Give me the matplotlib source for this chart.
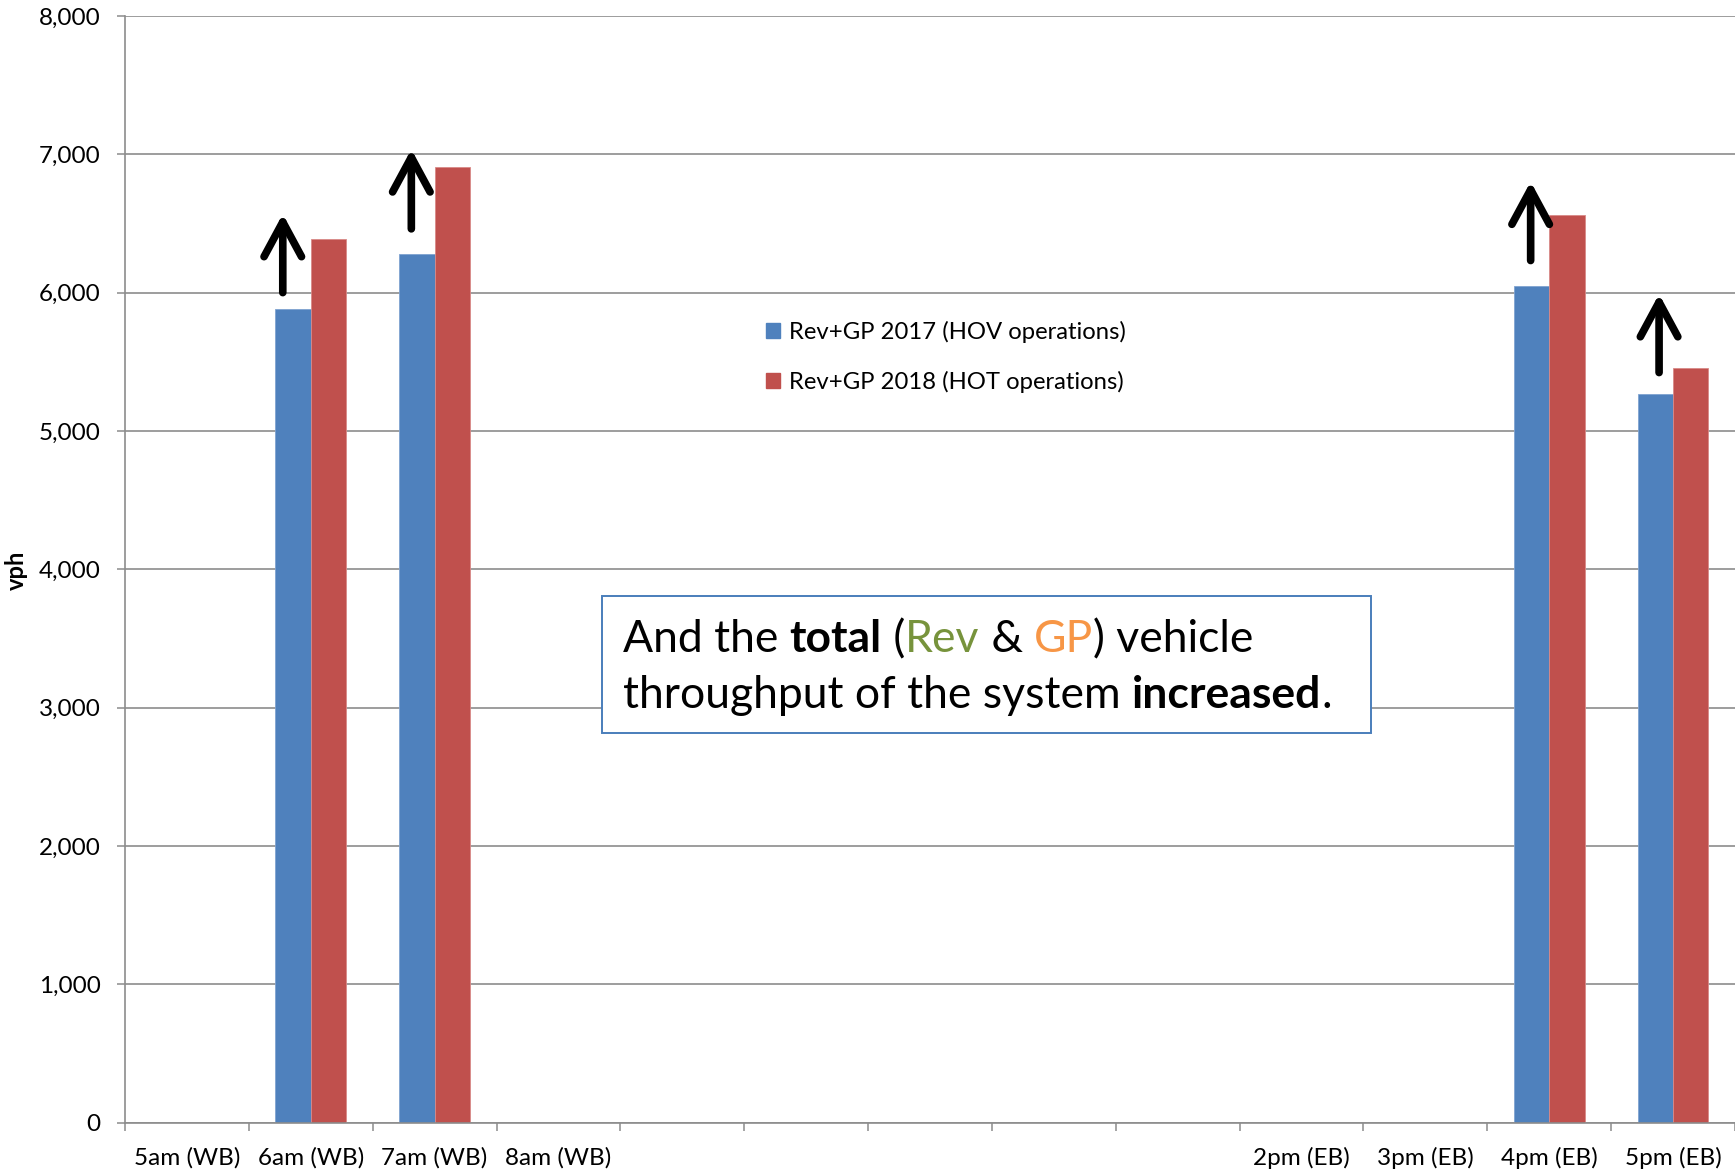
import numpy as np
import matplotlib
matplotlib.use('Agg')
import matplotlib.pyplot as plt
from matplotlib.patches import Rectangle, Patch
from matplotlib.ticker import FuncFormatter, FixedLocator
from matplotlib.transforms import IdentityTransform

# ---------------- data ----------------
categories = ['5am (WB)', '6am (WB)', '7am (WB)', '8am (WB)', '', '', '', '', '',
              '2pm (EB)', '3pm (EB)', '4pm (EB)', '5pm (EB)']
nan = np.nan
rev_gp_2017 = [nan, 5880, 6280, nan, nan, nan, nan, nan, nan, nan, nan, 6048, 5268]
rev_gp_2018 = [nan, 6389, 6911, nan, nan, nan, nan, nan, nan, nan, nan, 6562, 5455]
series_labels = ['Rev+GP 2017 (HOV operations)', 'Rev+GP 2018 (HOT operations)']
y_ticks = [0, 1000, 2000, 3000, 4000, 5000, 6000, 7000, 8000]
y_label = 'vph'

# arrows (annotation): category index, base value, tip value
arrow_cat = [1, 2, 11, 12]
arrow_base = [6000, 6461, 6232, 5422]
arrow_tip = [6569, 7037, 6803, 5990]

# ---------------- style / layout ----------------
W, H = 1735, 1173
FONT = ['Lato', 'DejaVu Sans']
BLUE = '#4F81BD'
RED = '#C0504D'
GRID = '#8C8C8C'
bar_w = 0.285
arrow_dx = [-0.226, -0.188, -0.15, -0.113]

plt.rcParams['font.family'] = FONT

fig = plt.figure(figsize=(W / 100, H / 100), dpi=100)
ax = fig.add_axes([125 / W, 1 - 1122.5 / H, (1735 - 125) / W, (1122.5 - 16) / H])

x = np.arange(len(categories))
ax.bar(x - bar_w / 2, rev_gp_2017, width=bar_w, color=BLUE, edgecolor='#7FA3D1',
       linewidth=0.6, zorder=3, label=series_labels[0])
ax.bar(x + bar_w / 2, rev_gp_2018, width=bar_w, color=RED, edgecolor='#D98A88',
       linewidth=0.6, zorder=3, label=series_labels[1])

ax.set_xlim(-0.5, len(categories) - 0.5)
ax.set_ylim(y_ticks[0], y_ticks[-1])
ax.yaxis.set_major_locator(FixedLocator(y_ticks))
ax.yaxis.set_major_formatter(FuncFormatter(lambda v, p: f'{int(v):,}'))
ax.set_xticks(x)
ax.set_xticklabels(categories)
ax.set_xticks(np.arange(len(categories) + 1) - 0.5, minor=True)

ax.tick_params(axis='x', which='major', length=0, pad=17.5, labelsize=17.5)
ax.tick_params(axis='x', which='minor', length=6, width=1.1, color=GRID, direction='out')
ax.tick_params(axis='y', which='major', length=6, width=1.1, color=GRID, pad=11.5, labelsize=17.5)

ax.grid(axis='y', color=GRID, linewidth=1.2, zorder=0)
ax.set_axisbelow(True)
for s in ['top', 'right']:
    ax.spines[s].set_visible(False)
for s in ['left', 'bottom']:
    ax.spines[s].set_color(GRID)
    ax.spines[s].set_linewidth(1.2)
    ax.spines[s].set_zorder(4)

ax.set_ylabel(y_label, fontsize=17, fontweight='bold', labelpad=0)
ax.yaxis.set_label_coords(-(125 - 28) / (W - 125), 0.5 - 1.0 / 1106.5)

# arrows
for c, dx, b, t in zip(arrow_cat, arrow_dx, arrow_base, arrow_tip):
    ax.annotate('', xy=(c + dx, t), xytext=(c + dx, b),
                arrowprops=dict(arrowstyle='->,head_length=25,head_width=13.5',
                                mutation_scale=1, lw=5.5, color='black',
                                shrinkA=0, shrinkB=0, capstyle='round',
                                joinstyle='round'),
                zorder=5)

# legend
handles = [Patch(facecolor=BLUE, edgecolor=BLUE), Patch(facecolor=RED, edgecolor=RED)]
ax.legend(handles, series_labels, loc='upper left',
          bbox_to_anchor=(766 / W, 1 - 321 / H), bbox_transform=fig.transFigure,
          frameon=False, borderpad=0, handlelength=0.6, handleheight=0.6,
          handletextpad=0.35, labelspacing=1.15, fontsize=17.2, borderaxespad=0)

# text box
box = Rectangle((602, H - 733), 1371 - 602, 733 - 596, transform=IdentityTransform(),
                facecolor='white', edgecolor='#4A7EBB', linewidth=1.4, zorder=10)
fig.add_artist(box)

fig.canvas.draw()
renderer = fig.canvas.get_renderer()
BOX_FS = 32


def text_width(s, weight):
    t = fig.text(0, 0, '|' + s + '|', fontsize=BOX_FS, fontweight=weight)
    w1 = t.get_window_extent(renderer).width
    t.set_text('||')
    w2 = t.get_window_extent(renderer).width
    t.remove()
    return w1 - w2


lines = [
    (652, [('And the ', 'normal', 'black'), ('total', 'bold', 'black'),
           (' (', 'normal', 'black'), ('Rev', 'normal', '#77933C'),
           (' & ', 'normal', 'black'), ('GP', 'normal', '#F79646'),
           (') vehicle', 'normal', 'black')]),
    (708, [('throughput of the system ', 'normal', 'black'),
           ('increased', 'bold', 'black'), ('.', 'normal', 'black')]),
]
for ybase, pieces in lines:
    xpos = 623
    for s, wgt, col in pieces:
        fig.text(xpos, H - ybase, s, fontsize=BOX_FS, fontweight=wgt, color=col,
                 ha='left', va='baseline', transform=IdentityTransform(), zorder=11)
        xpos += text_width(s, wgt)

fig.savefig('out.png', dpi=100)
